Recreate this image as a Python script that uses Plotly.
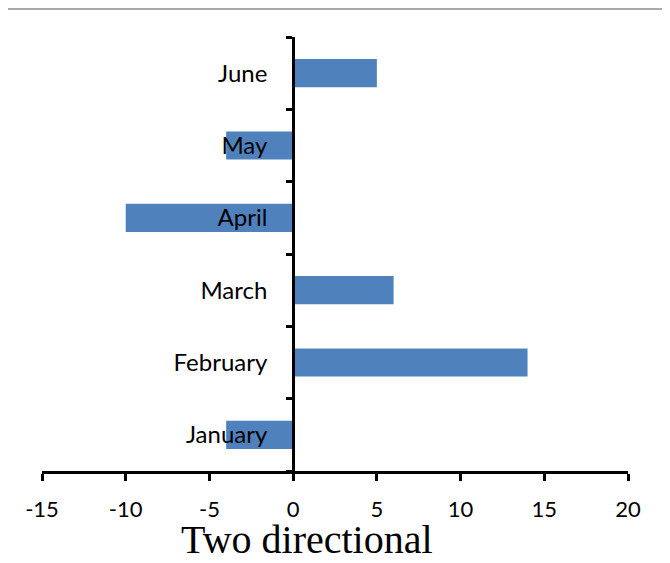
import plotly.graph_objects as go

categories = ["January", "February", "March", "April", "May", "June"]
values = [-4, 14, 6, -10, -4, 5]
x_ticks = [-15, -10, -5, 0, 5, 10, 15, 20]

# page body has an 8px margin, so the figure is sized/offset accordingly
OFF = 8
W, H = 670 - OFF, 563 - OFF
PL, PR, PT, PB = 42, 628, 37, 471  # plot area in page pixels
L, R, T, B = PL - OFF, W - (PR - OFF), PT - OFF, H - (PB - OFF)
xmin, xmax = -15, 20
pw, ph = PR - PL, PB - PT

fig = go.Figure(go.Bar(
    x=values, y=categories, orientation="h",
    marker=dict(color="#4F81BD", line=dict(width=0)),
    width=0.39,
))

zero_frac = (0 - xmin) / (xmax - xmin)

fig.update_layout(
    width=W, height=H,
    margin=dict(l=L, r=R, t=T, b=B, pad=0),
    plot_bgcolor="white", paper_bgcolor="white",
    showlegend=False,
    font=dict(family="Lato, Open Sans, sans-serif", size=22, color="black"),
    xaxis=dict(
        range=[xmin, xmax], tickvals=x_ticks, ticktext=[str(v) for v in x_ticks],
        showgrid=False, zeroline=False, showline=True, linecolor="black", linewidth=3,
        ticks="outside", ticklen=7, tickwidth=3, tickcolor="black",
        ticklabelstandoff=10,
        tickfont=dict(size=22), fixedrange=True,
    ),
    yaxis=dict(
        categoryorder="array", categoryarray=categories,
        anchor="free", position=zero_frac,
        showgrid=False, zeroline=False, showline=True, linecolor="black", linewidth=3,
        ticks="outside", tickson="boundaries", ticklen=6, tickwidth=3, tickcolor="black",
        ticklabelstandoff=20,
        tickfont=dict(size=24), layer="above traces",
        range=[-0.5, 5.5],
    ),
    shapes=[dict(type="line", xref="paper", yref="paper",
                 x0=(7 - PL) / pw, x1=(670 - PL) / pw,
                 y0=1 + (PT - 9) / ph, y1=1 + (PT - 9) / ph,
                 line=dict(color="#8c8c8c", width=1.5))],
    annotations=[dict(text="Two directional", xref="paper", yref="paper",
                      x=(307 - PL) / pw, y=-(555 - PB) / ph,
                      xanchor="center", yanchor="bottom", showarrow=False,
                      yshift=-9,
                      font=dict(family="Liberation Serif, Times New Roman, serif", size=40, color="black"))],
)

fig.write_html("out.html")
